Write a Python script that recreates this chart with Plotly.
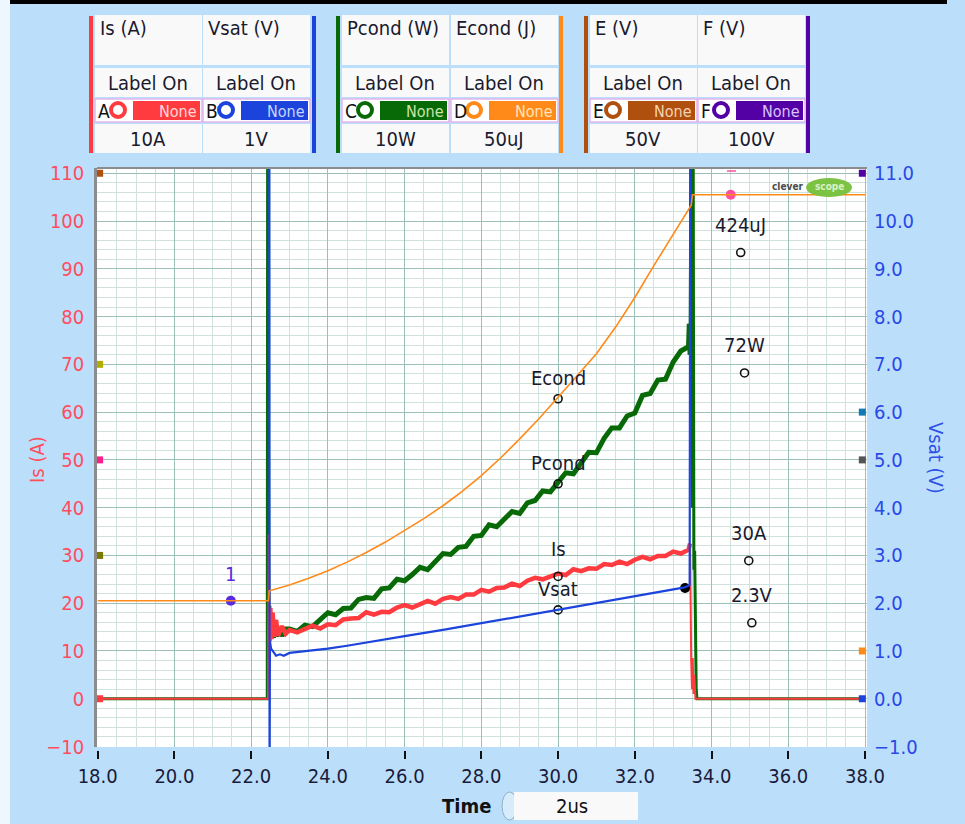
import plotly.graph_objects as go

# ---------------- data ----------------
# time axis in microseconds
t_is = [18.0, 22.44, 22.46, 22.48, 22.5, 22.53, 22.56, 22.6, 22.65, 22.7, 22.8, 22.9,
        23.0, 23.2, 23.4, 23.6, 23.8, 24.0, 24.2, 24.4, 24.6, 24.8, 25.0, 25.2, 25.4, 25.6, 25.8,
        26.0, 26.2, 26.4, 26.6, 26.8, 27.0, 27.2, 27.4, 27.6, 27.8, 28.0, 28.2, 28.4, 28.6, 28.8,
        29.0, 29.2, 29.4, 29.6, 29.8, 30.0, 30.2, 30.4, 30.6, 30.8, 31.0, 31.2, 31.4, 31.6, 31.8,
        32.0, 32.2, 32.4, 32.6, 32.8, 33.0, 33.2, 33.4, 33.44, 33.47, 33.49, 33.51, 33.53, 33.55,
        33.58, 38.0]
is_amps = [0, 0, 34.5, 12.0, 19.0, 12.5, 18.0, 13.0, 16.5, 13.2, 15.2, 13.6,
           14.4, 13.9, 14.6, 15.3, 14.7, 15.6, 15.4, 16.6, 16.8, 16.9, 18.1, 17.6, 18.2, 18.1, 19.1,
           19.6, 19.1, 19.7, 20.5, 19.9, 20.9, 21.3, 20.9, 21.8, 21.8, 22.8, 22.4, 23.2, 23.3, 24.1,
           23.6, 24.7, 25.3, 25.0, 25.6, 26.2, 25.9, 27.1, 26.7, 27.3, 27.2, 28.2, 28.0, 28.7, 28.2,
           29.1, 29.7, 29.2, 29.9, 29.9, 30.8, 30.4, 31.2, 32.5, 8.0, 2.0, 8.5, 1.0, 5.0,
           0, 0]

t_vsat = [18.0, 22.47, 22.48, 22.49, 22.52, 22.58, 22.65, 22.75, 22.85, 23.0, 23.5, 24.0,
          24.5, 25.0, 26.0, 27.0, 28.0, 29.0, 30.0, 31.0, 32.0, 33.0, 33.3, 33.43, 33.45, 38.0]
vsat_volts = [15, 15, -1.5, 1.2, 1.05, 0.98, 0.9, 0.93, 0.9, 0.96, 1.0, 1.05,
              1.11, 1.18, 1.31, 1.44, 1.58, 1.72, 1.86, 2.0, 2.14, 2.28, 2.33, 2.38, 15, 15]

t_pcond = [18.0, 22.42, 22.43, 22.46, 22.5, 22.54, 22.58, 22.62, 22.66, 22.7, 22.8, 22.9,
           23.0, 23.2, 23.4, 23.6, 23.8, 24.0, 24.2, 24.4, 24.6, 24.8, 25.0, 25.2, 25.4, 25.6, 25.8,
           26.0, 26.2, 26.4, 26.6, 26.8, 27.0, 27.2, 27.4, 27.6, 27.8, 28.0, 28.2, 28.4, 28.6, 28.8,
           29.0, 29.2, 29.4, 29.6, 29.8, 30.0, 30.2, 30.4, 30.6, 30.8, 31.0, 31.2, 31.4, 31.6, 31.8,
           32.0, 32.2, 32.4, 32.6, 32.8, 33.0, 33.2, 33.4, 33.42, 33.44, 33.47, 33.5, 33.52,
           33.54, 33.56, 33.58, 33.6, 33.62, 38.0]
pcond_watts = [0, 0, 125, 19.5, 14.0, 17.5, 12.8, 15.5, 13.0, 14.8, 13.2, 14.6,
               14.6, 14.1, 15.4, 15.1, 16.7, 18.0, 17.6, 18.9, 19.0, 20.8, 21.2, 21.0, 23.0, 23.2, 25.0,
               24.7, 26.0, 27.5, 27.0, 28.9, 30.4, 30.2, 31.7, 31.9, 34.0, 34.2, 36.4, 36.0, 37.6, 39.2,
               38.8, 41.0, 41.5, 43.5, 43.3, 45.3, 47.3, 47.1, 49.5, 51.6, 51.5, 54.5, 56.7, 56.7, 59.2,
               59.8, 63.5, 63.9, 66.7, 66.9, 70.5, 72.8, 73.7, 78.5, 72.0, 125, 40, 125,
               27, 31, 10, 2, 0, 0]

t_econd = [18.0, 22.45, 22.47, 23.0, 23.5, 24.0, 24.5, 25.0, 25.5, 26.0, 26.5, 27.0, 27.5,
           28.0, 28.5, 29.0, 29.5, 30.0, 30.5, 31.0, 31.5, 32.0, 32.5, 33.0, 33.2, 33.4,
           33.47, 33.5, 38.0]
econd_uj = [0, 0, 10.5, 16.5, 23.5, 31.5, 40.5, 50.5, 61.5, 73.5, 86, 99.5, 114.5,
            131, 149.5, 169.5, 190.5, 213, 235.5, 258.5, 286.5, 317.5, 351, 384, 397.5, 410.5,
            414, 425, 425]

# trace label points (at t = 30 us) and cursor readouts
label_names = ["Econd", "Pcond", "Is", "Vsat"]
label_t = [30.0, 30.0, 30.0, 30.0]
label_y = [62.8, 45.0, 25.6, 18.6]

readout_text = ["424uJ", "72W", "30A", "2.3V"]
readout_t = [34.76, 34.86, 34.97, 35.05]
readout_y = [93.4, 68.2, 28.9, 15.9]

cursor1 = (21.47, 20.5)
cursor2 = (34.5, 105.5)
vsat_cursor = (33.31, 23.2)

# channel table
ch_titles = ["Is (A)", "Vsat (V)", "Pcond (W)", "Econd (J)", "E (V)", "F (V)"]
ch_letters = ["A", "B", "C", "D", "E", "F"]
ch_scales = ["10A", "1V", "10W", "50uJ", "50V", "100V"]
ch_colors = ["#FF3B40", "#1C44DC", "#076A07", "#FF8A1A", "#B0500E", "#5300A4"]
ch_none_colors = ["#FFD8D8", "#C8D4FF", "#C8E6A8", "#FFE6B8", "#F6D2B2", "#D8C4FF"]

# axis offset markers
left_mark_y = [110, 70, 50, 30, 0]
left_mark_c = ["#B0500E", "#B3AD00", "#FF1F8A", "#7D7800", "#FF3B40"]
right_mark_y = [11, 6, 5, 1, 0]
right_mark_c = ["#5300A4", "#1478B4", "#555555", "#FF8A1A", "#1C44DC"]

# ---------------- layout geometry ----------------
FW, FH = 965, 824
L, R, T, B = 97, 867, 168, 747
BG = "#BBDFFB"
FONT = "Tahoma, 'DejaVu Sans Condensed', 'DejaVu Sans', sans-serif"


def px(x):
    return (x - L) / (R - L)


def py(y):
    return (B - y) / (B - T)


shapes = []
annotations = []


def rect(x0, y0, x1, y1, fill, line=None, lw=0, layer="above"):
    shapes.append(dict(type="rect", xref="paper", yref="paper",
                       x0=px(x0), x1=px(x1), y0=py(y1), y1=py(y0),
                       fillcolor=fill, line=dict(width=lw, color=line or fill), layer=layer))


def text(x, y, s, size=20, color="#1A1A2E", xa="center", bold=False, angle=0):
    if bold:
        s = "<b>" + s + "</b>"
    annotations.append(dict(xref="paper", yref="paper", x=px(x), y=py(y), text=s,
                            showarrow=False, xanchor=xa, yanchor="middle", textangle=angle,
                            font=dict(family=FONT, size=size, color=color)))


# top black bar and left strip
rect(0, 0, 947, 4, "#000000")
rect(0, 0, 10, FH, "#EEF7FE")

# channel table
cell_x = [95, 203, 342, 451, 590, 698]
cw = 107
for i in range(6):
    x0 = cell_x[i]
    x1 = x0 + cw
    rect(x0, 15, x1, 65, "#F9F9F9")
    rect(x0, 68, x1, 97, "#F9F9F9")
    rect(x0, 99, x1, 122, "#FFFFFF", line="#E4B6EE", lw=1.5)
    rect(x0 + 38, 101, x1 - 2, 120, ch_colors[i])
    shapes.append(dict(type="circle", xref="paper", yref="paper",
                       x0=px(x0 + 16), x1=px(x0 + 30), y0=py(117), y1=py(103),
                       fillcolor="#FFFFFF", line=dict(width=4, color=ch_colors[i]), layer="above"))
    rect(x0, 124, x1, 153, "#F9F9F9")
    text(x0 + 3, 28, ch_titles[i], xa="left")
    text(x0 + 53, 83, "Label On")
    text(x0 + 1, 111, ch_letters[i], size=19, xa="left", color="#111111")
    text(x1 - 3, 111, "None", size=16, xa="right", color=ch_none_colors[i])
    text(x0 + 53, 139, ch_scales[i])

bar_x = [89, 312, 336, 559, 584, 806]
for bx, bc in zip(bar_x, ch_colors):
    rect(bx, 16, bx + 4, 153, bc)

# plot frame: top border, gap under plot above ticks
shapes.append(dict(type="line", xref="paper", yref="paper", x0=0, x1=1, y0=1, y1=1,
                   line=dict(color="#8C8C8C", width=2), layer="above"))
rect(L, 747, R + 2, 751, BG)

# cursor 2 label remnant (clipped at top)
shapes.append(dict(type="line", xref="paper", yref="paper", x0=px(727), x1=px(736),
                   y0=py(171), y1=py(171), line=dict(color="#FF4FA0", width=1.5), layer="above"))

# cleverscope logo
shapes.append(dict(type="circle", xref="paper", yref="paper", x0=px(806), x1=px(852),
                   y0=py(197), y1=py(178), fillcolor="#7CC243", line=dict(width=0), layer="above"))
text(787, 187, "clever", size=10, color="#4A4A4A", bold=True)
text(829, 187, "scope", size=10, color="#D9F2C4", bold=True)

# axis titles
text(37, 460, "Is (A)", color="#FF4D5E", angle=-90)
text(936, 458, "Vsat (V)", color="#2E50E6", angle=90)

# time base control
text(466, 806, "Time", bold=True, color="#111111")
shapes.append(dict(type="circle", xref="paper", yref="paper", x0=px(502), x1=px(517),
                   y0=py(820), y1=py(792), fillcolor="#D6ECFA", line=dict(width=1, color="#8FB0C8"),
                   layer="above"))
rect(514, 792, 638, 820, "#F9F9F9")
text(572, 806, "2us", color="#111111")

# ---------------- traces ----------------
fig = go.Figure()

# on-state (noisy) index ranges
is_on = [i for i, t in enumerate(t_is) if 22.47 <= t <= 33.44]
p_on = [i for i, t in enumerate(t_pcond) if 22.45 <= t <= 33.44]

fig.add_trace(go.Scatter(x=t_econd, y=econd_uj, yaxis="y3", mode="lines",
                         line=dict(color="#FF8A1A", width=1.6), hoverinfo="skip"))
fig.add_trace(go.Scatter(x=t_pcond, y=pcond_watts, mode="lines",
                         line=dict(color="#076A07", width=3), hoverinfo="skip"))
fig.add_trace(go.Scatter(x=[t_pcond[i] for i in p_on], y=[pcond_watts[i] for i in p_on], mode="lines",
                         line=dict(color="#076A07", width=5), hoverinfo="skip"))
fig.add_trace(go.Scatter(x=t_vsat, y=vsat_volts, yaxis="y2", mode="lines",
                         line=dict(color="#1C44DC", width=2.2), hoverinfo="skip"))
fig.add_trace(go.Scatter(x=t_is, y=is_amps, mode="lines",
                         line=dict(color="#FF3B40", width=2), hoverinfo="skip"))
fig.add_trace(go.Scatter(x=[t_is[i] for i in is_on], y=[is_amps[i] for i in is_on], mode="lines",
                         line=dict(color="#FF3B40", width=4.5), hoverinfo="skip"))

# label points
fig.add_trace(go.Scatter(x=label_t, y=label_y, mode="markers",
                         marker=dict(symbol="circle-open", size=8, color="#111111",
                                     line=dict(width=1.6, color="#111111")), hoverinfo="skip"))
fig.add_trace(go.Scatter(x=readout_t, y=readout_y, mode="markers",
                         marker=dict(symbol="circle-open", size=8, color="#111111",
                                     line=dict(width=1.6, color="#111111")), hoverinfo="skip"))
# cursors
fig.add_trace(go.Scatter(x=[cursor1[0]], y=[cursor1[1]], mode="markers",
                         marker=dict(size=10, color="#5A2BE0"), hoverinfo="skip"))
fig.add_trace(go.Scatter(x=[cursor2[0]], y=[cursor2[1]], mode="markers",
                         marker=dict(size=10, color="#FF4FA0"), hoverinfo="skip"))
fig.add_trace(go.Scatter(x=[vsat_cursor[0]], y=[vsat_cursor[1]], mode="markers",
                         marker=dict(size=10, color="#000000"), hoverinfo="skip"))

# axis offset markers
fig.add_trace(go.Scatter(x=[18.05] * len(left_mark_y), y=left_mark_y, mode="markers",
                         cliponaxis=False,
                         marker=dict(symbol="square", size=7, color=left_mark_c), hoverinfo="skip"))
fig.add_trace(go.Scatter(x=[37.93] * len(right_mark_y), y=right_mark_y, yaxis="y2", mode="markers",
                         cliponaxis=False,
                         marker=dict(symbol="square", size=7, color=right_mark_c), hoverinfo="skip"))

# data annotations
for n, tt, yy in zip(label_names, label_t, label_y):
    annotations.append(dict(x=tt, y=yy, xref="x", yref="y", text=n, showarrow=False,
                            yshift=21 if n != "Is" else 27, font=dict(family=FONT, size=20, color="#1A1A2E")))
for s, tt, yy in zip(readout_text, readout_t, readout_y):
    annotations.append(dict(x=tt, y=yy, xref="x", yref="y", text=s, showarrow=False,
                            yshift=28, font=dict(family=FONT, size=20, color="#1A1A2E")))
annotations.append(dict(x=cursor1[0], y=cursor1[1], xref="x", yref="y", text="1", showarrow=False,
                        yshift=27, font=dict(family=FONT, size=20, color="#5A2BE0")))

GRID_MAJ = "#9CBFB8"
GRID_MIN = "#CFE2DE"

fig.update_layout(
    width=FW, height=FH,
    margin=dict(l=L, r=FW - R, t=T, b=FH - B, autoexpand=False),
    paper_bgcolor=BG, plot_bgcolor="#FFFFFF",
    showlegend=False,
    font=dict(family=FONT, size=20),
    xaxis=dict(range=[17.982, 38.052], dtick=2, tick0=18, tickformat=".1f",
               showgrid=True, gridcolor=GRID_MAJ, gridwidth=1.2, zeroline=False,
               ticks="outside", ticklen=11, tickwidth=2, tickcolor="#111111",
               tickfont=dict(family=FONT, size=20, color="#1A1A3A"),
               minor=dict(dtick=0.5, tick0=18, showgrid=True, gridcolor=GRID_MIN, gridwidth=1, ticks=""),
               showline=False, fixedrange=True),
    yaxis=dict(range=[-10.1, 111.1], dtick=10, tick0=0, showgrid=True, gridcolor=GRID_MAJ,
               gridwidth=1.2, zeroline=False, ticks="", ticklabelstandoff=6,
               tickfont=dict(family=FONT, size=20, color="#FF4D5E"),
               minor=dict(dtick=2, tick0=0, showgrid=True, gridcolor=GRID_MIN, gridwidth=1, ticks=""),
               showline=True, linecolor="#8C8C8C", linewidth=2.5, fixedrange=True),
    yaxis2=dict(range=[-1.01, 11.11], dtick=1, tick0=0, tickformat=".1f", overlaying="y",
                side="right", showgrid=False, zeroline=False, ticks="", ticklabelstandoff=6,
                tickfont=dict(family=FONT, size=20, color="#2A48E6"), showline=False,
                fixedrange=True),
    yaxis3=dict(range=[(-10.1 - 20.5) * 5, (111.1 - 20.5) * 5], overlaying="y", visible=False,
                fixedrange=True),
    shapes=shapes,
    annotations=annotations,
)

fig.write_html("out.html", config={"displayModeBar": False},
               post_script="document.body.style.margin='0px';")
